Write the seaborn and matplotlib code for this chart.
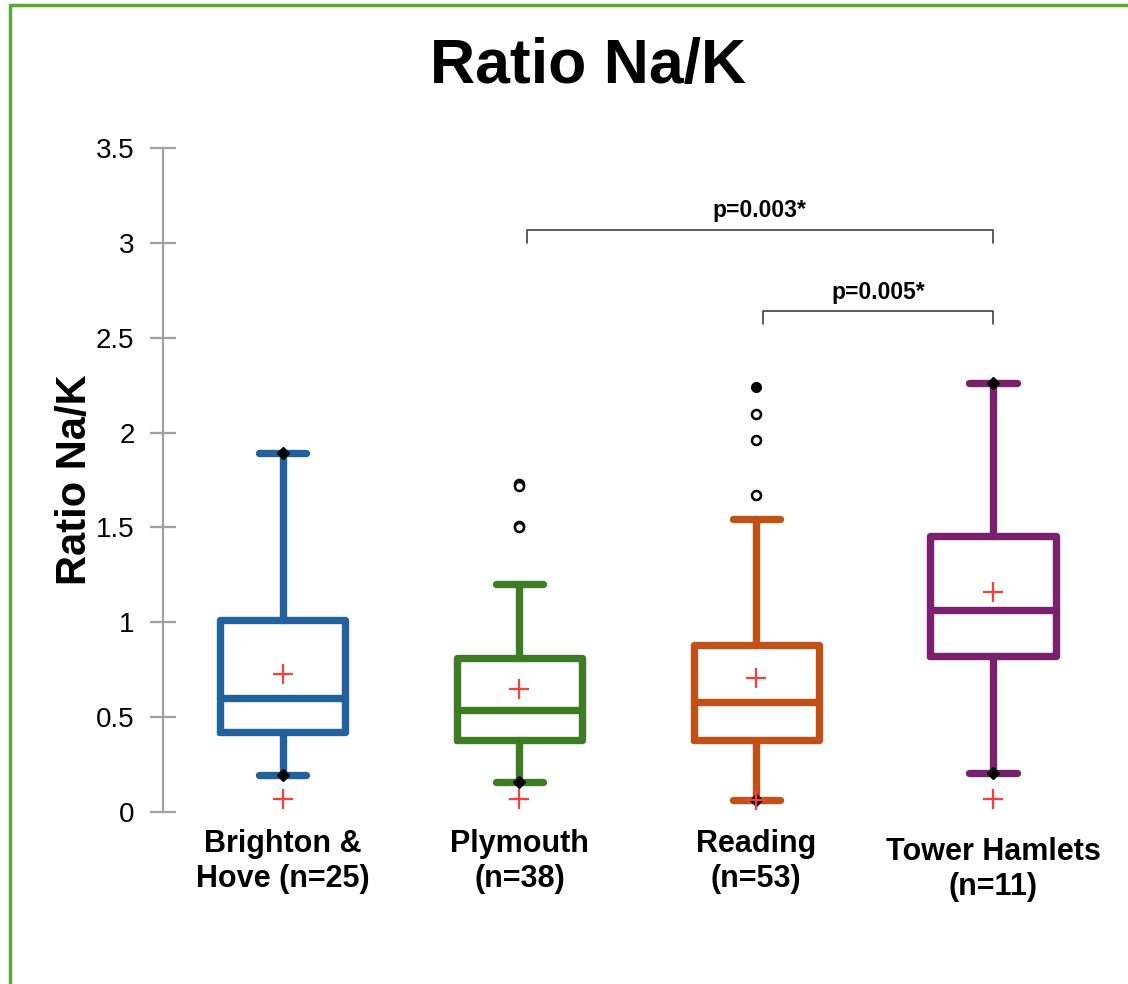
import numpy as np
import pandas as pd
import seaborn as sns
import matplotlib.pyplot as plt
from matplotlib.lines import Line2D

# categories and colours
groups = ["Brighton &\nHove (n=25)", "Plymouth\n(n=38)", "Reading\n(n=53)", "Tower Hamlets\n(n=11)"]
colors = ["#22619B", "#3E7C24", "#C05217", "#79206F"]

# box summaries
whisker_low = [0.195, 0.16, 0.063, 0.205]
q1 = [0.42, 0.38, 0.38, 0.82]
median = [0.60, 0.54, 0.58, 1.065]
q3 = [1.01, 0.81, 0.88, 1.455]
whisker_high = [1.89, 1.20, 1.545, 2.26]
means = [0.73, 0.65, 0.705, 1.16]
low_marks = [0.07, 0.07, 0.063, 0.07]

# outliers (open circles) per group index
outlier_group = [1, 1, 1, 1, 2, 2, 2]
outlier_vals = [1.73, 1.72, 1.51, 1.50, 2.10, 1.96, 1.67]

# observed min / max markers
minmax_group = [0, 0, 1, 2, 3, 3]
minmax_vals = [1.89, 0.195, 0.16, 0.063, 2.26, 0.205]
max_out_group = [2]
max_out_vals = [2.24]

# significance brackets: left, right, height, text
pair_left = [1.03, 2.03]
pair_right = [3.0, 3.0]
pair_height = [3.07, 2.64]
pair_text = ["p=0.003*", "p=0.005*"]

# long table: five-number summary per group, so whis=(0, 100) gives the same box
rows = []
for g, lo, a, m, b, hi in zip(groups, whisker_low, q1, median, q3, whisker_high):
    for v in (lo, a, m, b, hi):
        rows.append({"group": g, "value": v})
df = pd.DataFrame(rows)

sns.set_style("white")
plt.rcParams["font.family"] = ["Liberation Sans", "DejaVu Sans"]
plt.rcParams["text.color"] = "black"
plt.rcParams["axes.labelcolor"] = "black"
plt.rcParams["xtick.color"] = "black"
plt.rcParams["ytick.color"] = "black"

fig = plt.figure(figsize=(11.28, 9.84), dpi=100)
ax = fig.add_axes([0.1445, 0.1748, 0.842, 0.6748])

sns.boxplot(data=df, x="group", y="value", hue="group", palette=colors,
            fill=False, width=0.53, linewidth=5.3, whis=(0, 100),
            showfliers=False, legend=False, capwidths=0.2, ax=ax)

# round line ends like the original
for line in ax.lines:
    line.set_solid_capstyle("round")
    line.set_solid_joinstyle("round")

pos = np.arange(len(groups))

# outliers
ax.plot(outlier_group, outlier_vals, "o", ms=6.5, mfc="white", mec="black", mew=1.8, ls="none", zorder=5)
ax.plot(max_out_group, max_out_vals, "o", ms=7, color="black", ls="none", zorder=5)

# min / max diamonds
ax.plot(minmax_group, minmax_vals, "D", ms=6, color="black", ls="none", zorder=5)

# means and low red crosses
ax.plot(pos, means, "+", ms=15, mew=1.6, color="#FF3B3B", ls="none", zorder=6)
ax.plot(pos, low_marks, "+", ms=15, mew=1.6, color="#FF3B3B", ls="none", zorder=6)

# significance brackets
for x0, x1, h, t in zip(pair_left, pair_right, pair_height, pair_text):
    ax.plot([x0, x0, x1, x1], [h - 0.07, h, h, h - 0.07], color="#404040", lw=1.2)
    ax.text((x0 + x1) / 2, h + 0.1, t, ha="center", va="center",
            fontsize=16.5, fontweight="bold")

ax.set_xlim(-0.505, 3.505)
ax.set_ylim(0, 3.5)
ax.set_yticks([0, 0.5, 1, 1.5, 2, 2.5, 3, 3.5])
ax.set_yticklabels(["0", "0.5", "1", "1.5", "2", "2.5", "3", "3.5"])

sns.despine(ax=ax, top=True, right=True, bottom=True)
ax.spines["left"].set_color("#A0A0A0")
ax.spines["left"].set_linewidth(1.6)
ax.tick_params(axis="y", left=True, direction="inout", length=19, width=1.6, color="#A0A0A0",
               labelcolor="black", labelsize=20, pad=11)
ax.tick_params(axis="x", bottom=False, length=0, pad=12, labelcolor="black")

ax.set_xlabel("")
ax.set_ylabel("Ratio Na/K", fontsize=30, fontweight="bold", labelpad=1)

for lab in ax.get_xticklabels():
    lab.set_fontfamily(["Liberation Sans Narrow", "Liberation Sans", "DejaVu Sans"])
    lab.set_fontweight("bold")
    lab.set_fontsize(22)
    lab.set_linespacing(1.25)
ax.get_xticklabels()[3].set_y(-0.012)

fig.text(0.521, 1 - 67 / 984, "Ratio Na/K", ha="center", va="center",
         fontsize=45, fontweight="bold", color="black")

# green frame on top and left
fig.add_artist(Line2D([10 / 1128, 1], [1 - 5 / 984, 1 - 5 / 984], color="#5EA832", lw=2.5))
fig.add_artist(Line2D([10 / 1128, 10 / 1128], [0, 1 - 5 / 984], color="#5EA832", lw=2.5))

fig.savefig("out.png", dpi=100)
